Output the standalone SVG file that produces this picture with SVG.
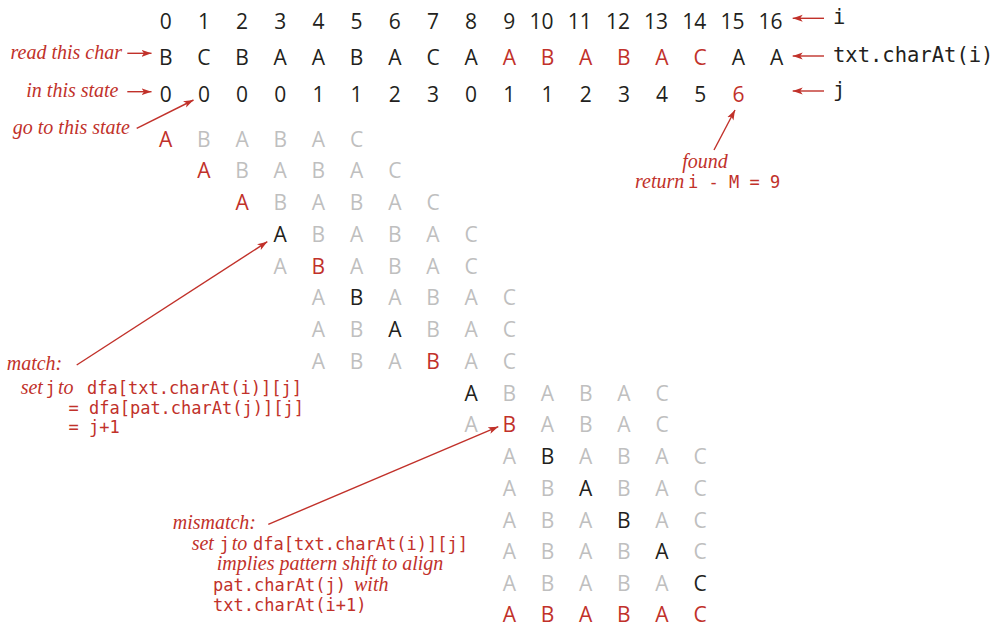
<svg xmlns="http://www.w3.org/2000/svg" width="1001" height="625" viewBox="0 0 1001 625">
<style>
  .s { font-family: "Open Sans", "DejaVu Sans", sans-serif; font-size: 21px; }
  .c { text-anchor: middle; }
  .e { text-anchor: end; }
  .k { fill: #231f20; }
  .r { fill: #c1312a; }
  .g { fill: #bfbfbf; }
  .it { font-family: "Liberation Serif", serif; font-style: italic; font-size: 20px; fill: #c1312a; }
  .m { font-family: "DejaVu Sans Mono", "Liberation Mono", monospace; font-size: 17px; fill: #c1312a; }
  .mk { font-family: "DejaVu Sans Mono", "Liberation Mono", monospace; font-size: 20.5px; fill: #231f20; }
  .ln { stroke: #c1312a; stroke-width: 1.4; fill: none; marker-end: url(#ah); }
</style>
<defs>
  <marker id="ah" markerUnits="userSpaceOnUse" markerWidth="11" markerHeight="8" refX="10" refY="4" orient="auto">
    <path d="M0,0.5 L10,4 L0,7.5 L2.5,4 Z" fill="#c1312a"/>
  </marker>
</defs>
<rect width="1001" height="625" fill="#ffffff"/>

<g id="row-i" class="s k e">
  <text x="171.7" y="28.5">0</text>
  <text x="209.9" y="28.5">1</text>
  <text x="248.1" y="28.5">2</text>
  <text x="286.2" y="28.5">3</text>
  <text x="324.4" y="28.5">4</text>
  <text x="362.6" y="28.5">5</text>
  <text x="400.8" y="28.5">6</text>
  <text x="439" y="28.5">7</text>
  <text x="477.1" y="28.5">8</text>
  <text x="515.3" y="28.5">9</text>
  <text x="553.5" y="28.5">10</text>
  <text x="591.7" y="28.5">11</text>
  <text x="629.9" y="28.5">12</text>
  <text x="668" y="28.5">13</text>
  <text x="706.2" y="28.5">14</text>
  <text x="744.4" y="28.5">15</text>
  <text x="782.6" y="28.5">16</text>
</g>

<g id="row-txt" class="s c">
  <text y="64.5" x="165.7 203.9 242.1 280.2 318.4 356.6 394.8 433 471.1 509.3 547.5 585.7 623.9 662 700.2 738.4 776.6"><tspan class="k">BCBAABACA</tspan><tspan class="r">ABABAC</tspan><tspan class="k">AA</tspan></text>
</g>

<g id="row-j" class="s c">
  <text y="101.5" x="165.7 203.9 242.1 280.2 318.4 356.6 394.8 433 471.1 509.3 547.5 585.7 623.9 662 700.2 738.4"><tspan class="k">000011230112345</tspan><tspan class="r">6</tspan></text>
</g>

<g id="labels-right">
  <text class="mk" x="833" y="23.5">i</text>
  <text class="mk" x="833" y="61.5">txt.charAt(i)</text>
  <text class="mk" x="833" y="96.5">j</text>
</g>

<g id="trace" class="s c">
  <g id="t0"><text y="146.5" x="165.7 203.9 242.1 280.2 318.4 356.6"><tspan class="r">A</tspan><tspan class="g">BABAC</tspan></text></g>
  <g id="t1"><text y="178.25" x="203.9 242.1 280.2 318.4 356.6 394.8"><tspan class="r">A</tspan><tspan class="g">BABAC</tspan></text></g>
  <g id="t2"><text y="210" x="242.1 280.2 318.4 356.6 394.8 433"><tspan class="r">A</tspan><tspan class="g">BABAC</tspan></text></g>
  <g id="t3"><text y="241.75" x="280.2 318.4 356.6 394.8 433 471.1"><tspan class="k">A</tspan><tspan class="g">BABAC</tspan></text></g>
  <g id="t4"><text y="273.5" x="280.2 318.4 356.6 394.8 433 471.1"><tspan class="g">A</tspan><tspan class="r">B</tspan><tspan class="g">ABAC</tspan></text></g>
  <g id="t5"><text y="305.25" x="318.4 356.6 394.8 433 471.1 509.3"><tspan class="g">A</tspan><tspan class="k">B</tspan><tspan class="g">ABAC</tspan></text></g>
  <g id="t6"><text y="337" x="318.4 356.6 394.8 433 471.1 509.3"><tspan class="g">AB</tspan><tspan class="k">A</tspan><tspan class="g">BAC</tspan></text></g>
  <g id="t7"><text y="368.75" x="318.4 356.6 394.8 433 471.1 509.3"><tspan class="g">ABA</tspan><tspan class="r">B</tspan><tspan class="g">AC</tspan></text></g>
  <g id="t8"><text y="400.5" x="471.1 509.3 547.5 585.7 623.9 662"><tspan class="k">A</tspan><tspan class="g">BABAC</tspan></text></g>
  <g id="t9"><text y="432.25" x="471.1 509.3 547.5 585.7 623.9 662"><tspan class="g">A</tspan><tspan class="r">B</tspan><tspan class="g">ABAC</tspan></text></g>
  <g id="t10"><text y="464" x="509.3 547.5 585.7 623.9 662 700.2"><tspan class="g">A</tspan><tspan class="k">B</tspan><tspan class="g">ABAC</tspan></text></g>
  <g id="t11"><text y="495.75" x="509.3 547.5 585.7 623.9 662 700.2"><tspan class="g">AB</tspan><tspan class="k">A</tspan><tspan class="g">BAC</tspan></text></g>
  <g id="t12"><text y="527.5" x="509.3 547.5 585.7 623.9 662 700.2"><tspan class="g">ABA</tspan><tspan class="k">B</tspan><tspan class="g">AC</tspan></text></g>
  <g id="t13"><text y="559.25" x="509.3 547.5 585.7 623.9 662 700.2"><tspan class="g">ABAB</tspan><tspan class="k">A</tspan><tspan class="g">C</tspan></text></g>
  <g id="t14"><text y="591" x="509.3 547.5 585.7 623.9 662 700.2"><tspan class="g">ABABA</tspan><tspan class="k">C</tspan></text></g>
  <g id="t15"><text y="621.5" x="509.3 547.5 585.7 623.9 662 700.2"><tspan class="r">ABABAC</tspan></text></g>
</g>

<g id="annotations">
  <text class="it" x="122" y="59" text-anchor="end">read this char</text>
  <text class="it" x="118.5" y="96.5" text-anchor="end">in this state</text>
  <text class="it" x="130" y="133.5" text-anchor="end">go to this state</text>

  <text class="it" x="705" y="168" text-anchor="middle">found</text>
  <text y="188"><tspan class="it" x="635">return</tspan><tspan class="m" x="688">i - M = 9</tspan></text>

  <text class="it" x="6.7" y="370">match:</text>
  <text y="394"><tspan class="it" x="20.7">set</tspan><tspan class="m" x="45.5">j</tspan><tspan class="it" x="58">to</tspan><tspan class="m" x="87">dfa[txt.charAt(i)][j]</tspan></text>
  <text class="m" x="68.5" y="413.5">= dfa[pat.charAt(j)][j]</text>
  <text class="m" x="68.5" y="433">= j+1</text>

  <text class="it" x="172.7" y="529">mismatch:</text>
  <text y="549.5"><tspan class="it" x="191.7">set</tspan><tspan class="m" x="219.5">j</tspan><tspan class="it" x="231.7">to</tspan><tspan class="m" x="253">dfa[txt.charAt(i)][j]</tspan></text>
  <text class="it" x="216.7" y="570">implies pattern shift to align</text>
  <text y="590.5"><tspan class="m" x="213">pat.charAt(j)</tspan><tspan class="it" x="354">with</tspan></text>
  <text class="m" x="213" y="611">txt.charAt(i+1)</text>
</g>

<g id="connectors">
  <line class="ln" x1="127.3" y1="53.3" x2="151.5" y2="53.3"/>
  <line class="ln" x1="127.3" y1="91.7" x2="151.5" y2="91.7"/>
  <line class="ln" x1="136.7" y1="128.3" x2="193.5" y2="100"/>
  <line class="ln" x1="824" y1="18.3" x2="792.7" y2="18.3"/>
  <line class="ln" x1="824" y1="56" x2="792.7" y2="56"/>
  <line class="ln" x1="824" y1="91" x2="792.7" y2="91"/>
  <line class="ln" x1="714" y1="150" x2="735" y2="110"/>
  <line class="ln" x1="76.7" y1="365" x2="267.3" y2="241.7"/>
  <line class="ln" x1="268.3" y1="524.3" x2="498.3" y2="426.7"/>
</g>
</svg>
